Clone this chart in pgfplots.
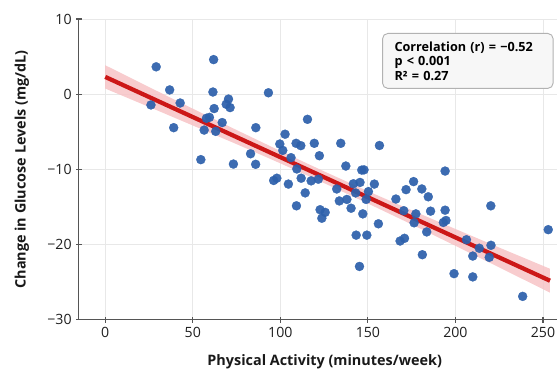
\documentclass[border=0pt]{standalone}
\usepackage{fontspec}
\setmainfont{Open Sans}
\usepackage{pgfplots}
\pgfplotsset{compat=1.18}
\definecolor{ptblue}{HTML}{2D60AB}
\definecolor{fitred}{HTML}{CC1717}
\definecolor{bandpink}{HTML}{F7C3C6}
\definecolor{gridgray}{HTML}{E8E8E8}
\definecolor{axgray}{HTML}{555555}

\pgfplotstableread{
x y
26.1 -1.43
29.1 3.64
36.8 0.57
42.8 -1.17
39.1 -4.45
61.9 4.6
61.5 0.29
70.4 -0.65
69.1 -1.34
71.3 -1.78
62.2 -1.91
59.5 -3.08
57.8 -3.2
66.8 -3.77
56.5 -4.77
63.1 -4.94
86.0 -4.45
93.2 0.19
54.6 -8.70
73.2 -9.29
83.0 -7.92
85.9 -9.32
99.7 -6.62
101.4 -7.47
102.7 -5.32
115.5 -3.34
109.0 -6.53
111.7 -6.84
119.4 -6.53
134.5 -6.53
122.3 -8.18
106.1 -8.44
137.4 -9.55
109.4 -9.94
98.0 -11.17
96.2 -11.47
104.6 -11.95
111.9 -11.17
117.6 -11.52
121.7 -11.30
114.2 -13.12
132.2 -12.60
141.7 -11.91
145.5 -11.73
143.0 -13.12
133.7 -14.19
138.0 -13.99
140.4 -15.16
109.2 -14.84
122.7 -15.36
125.6 -15.71
123.7 -16.49
143.3 -18.74
145.2 -22.90
156.6 -6.82
146.5 -10.09
147.8 -10.06
194.1 -10.22
153.7 -11.95
150.3 -12.95
149.0 -13.99
147.1 -15.91
156.0 -17.23
149.4 -18.74
176.1 -11.62
171.8 -12.69
180.8 -12.60
184.5 -13.64
166.0 -13.94
170.5 -15.49
177.4 -15.91
185.8 -15.55
194.1 -15.42
176.4 -17.10
193.1 -17.05
194.6 -16.79
183.6 -18.31
168.4 -19.52
170.9 -19.16
181.1 -21.34
199.2 -23.86
220.2 -14.84
253.0 -18.01
206.3 -19.35
213.6 -20.48
220.3 -20.09
219.3 -21.69
209.9 -21.52
209.9 -24.29
238.4 -26.88
}\pts

\pgfplotstableread{
x y
0 2.30
254 -24.80
}\fit

\begin{document}
\begin{tikzpicture}
\begin{axis}[
  name=ax,
  scale only axis,
  width=358.7pt, height=225.75pt,
  xmin=-15, xmax=258, ymin=-30, ymax=10,
  axis lines*=left,
  xtick={0,50,100,150,200,250},
  ytick={-30,-20,-10,0,10},
  xticklabels={0,50,100,150,200,250},
  yticklabels={−30,−20,−10,0,10},
  tick align=center, major tick length=4pt,
  tick style={axgray, line width=0.8pt},
  axis line style={axgray, line width=0.8pt},
  grid=major, grid style={gridgray, line width=0.6pt},
  tick label style={font=\fontsize{10.6}{12}\selectfont, text=black!88},
  xlabel={Physical Activity (minutes/week)},
  ylabel={Change in Glucose Levels (mg/dL)},
  label style={font=\fontsize{10.8}{12}\selectfont\bfseries, text=black!90},
  xlabel style={at={(axis description cs:0.514,-0.1395)}, anchor=center},
  ylabel style={at={(axis description cs:-0.1192,0.5)}, anchor=center},
  clip=true,
]
\addplot[fill=bandpink, draw=none, fill opacity=0.85] coordinates {
  (0,3.85) (25,0.95) (50,-1.92) (75,-4.76) (100,-7.55) (125,-10.26) (150,-12.89) (175,-15.43) (200,-17.92) (225,-20.39) (254,-23.21)
  (254,-26.39) (225,-23.03) (200,-20.16) (175,-17.31) (150,-14.53) (125,-11.82) (100,-9.19) (75,-6.64) (50,-4.16) (25,-1.69) (0,0.75)
} -- cycle;
\addplot[fitred, line width=3.2pt] table[x=x,y=y] {\fit};
\addplot[ptblue, only marks, mark=*, mark size=3.4pt, mark options={draw=ptblue, fill=ptblue, line width=0.2pt}, opacity=0.93] table[x=x,y=y] {\pts};
\node[draw=black!30, fill=black!3, rounded corners=4pt, line width=0.7pt,
      anchor=north west, text width=110pt, inner xsep=9pt, minimum height=41.25pt,
      align=left, font=\fontsize{9.5}{10.9}\selectfont\bfseries]
  at (axis cs:158.1,8.14) {Correlation (r) = −0.52\\p < 0.001\\R² = 0.27};
\end{axis}
\pgfresetboundingbox
\path ([shift={(-59.25pt,-39.75pt)}]ax.south west) rectangle ([shift={(0pt,14.25pt)}]ax.north east);
\end{tikzpicture}
\end{document}
